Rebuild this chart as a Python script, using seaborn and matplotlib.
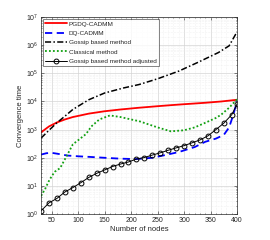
import numpy as np
import pandas as pd
import matplotlib
matplotlib.use("Agg")
import matplotlib.pyplot as plt
import seaborn as sns
from matplotlib.ticker import LogLocator, MultipleLocator, NullFormatter

# PGDQ-CADMM
x_pgdq = [30, 45, 60, 75, 90, 120, 150, 180, 215, 250, 275, 300, 340, 370, 400]
y_pgdq = [800, 1300, 1800, 2300, 2800, 3700, 4500, 5200, 6000, 6800, 7400, 8000, 9000, 10000, 11500]

# DQ-CADMM
x_dq = [30, 40, 50, 60, 80, 100, 120, 150, 180, 210, 240, 260, 290, 320, 340, 360, 375, 385, 392, 400]
y_dq = [130, 145, 150, 140, 120, 113, 108, 100, 93, 90, 100, 120, 160, 240, 370, 480, 650, 1200, 3000, 10000]

# Gossip based method
x_gossip = [30, 45, 60, 75, 90, 120, 150, 185, 215, 250, 290, 325, 365, 385, 400]
y_gossip = [500, 950, 1750, 3000, 5200, 11500, 20000, 30000, 40000, 64000, 120000, 240000, 550000, 950000, 3000000]

# Classical method
x_classic = [30, 38, 44, 50, 56, 66, 78, 90, 100, 115, 125, 140, 160, 180, 200, 215, 250, 275, 300, 320, 340, 360, 370, 385, 400]
y_classic = [4.4, 8, 14, 22, 32, 43, 112, 300, 420, 700, 1300, 2300, 3200, 2800, 2300, 2000, 1200, 870, 950, 1200, 1750, 2600, 3400, 6000, 12000]

# Gossip based method adjusted
x_adj = [30, 45, 60, 75, 90, 105, 120, 135, 150, 165, 180, 195, 210, 225, 240, 255, 270, 285,
         300, 315, 330, 345, 360, 375, 390, 400]
y_adj = [1.3, 2.5, 3.6, 6.1, 8.7, 13, 20, 28, 37, 49, 60, 71, 90, 102, 125, 150, 185, 225,
         270, 340, 430, 600, 1000, 1700, 3400, 8000]

sns.set_style("ticks")
plt.rcParams["font.family"] = ["Liberation Sans", "DejaVu Sans"]

fig = plt.figure(figsize=(2.7, 2.4), dpi=100)
ax = fig.add_axes([0.152, 0.108, 0.726, 0.821])

sns.lineplot(x=x_pgdq, y=y_pgdq, ax=ax, color="#ff0000", lw=1.3, label="PGDQ-CADMM")
sns.lineplot(x=x_dq, y=y_dq, ax=ax, color="#0000ff", lw=1.3, dashes=(4, 2.5), label="DQ-CADMM")
sns.lineplot(x=x_gossip, y=y_gossip, ax=ax, color="black", lw=1.1, dashes=(4, 1.5, 1, 1.5),
             label="Gossip based method")
sns.lineplot(x=x_classic, y=y_classic, ax=ax, color="#10a010", lw=1.3, dashes=(1, 1.2),
             label="Classical method")
sns.lineplot(x=x_adj, y=y_adj, ax=ax, color="black", lw=0.7, marker="o", markersize=3.5,
             markerfacecolor="none", markeredgecolor="black", markeredgewidth=0.7,
             label="Gossip based method adjusted")

ax.set_yscale("log")
ax.set_xlim(30, 400)
ax.set_ylim(1, 1e7)
ax.set_xticks([50, 100, 150, 200, 250, 300, 350, 400])
ax.xaxis.set_minor_locator(MultipleLocator(10))
ax.yaxis.set_major_locator(LogLocator(base=10, numticks=10))
ax.yaxis.set_minor_locator(LogLocator(base=10, subs=np.arange(2, 10), numticks=20))
ax.yaxis.set_minor_formatter(NullFormatter())

ax.grid(which="major", color="#d4d4d4", lw=0.5)
ax.grid(which="minor", color="#e8e8e8", lw=0.4, ls=":")
ax.set_axisbelow(True)

ax.tick_params(which="both", direction="in", top=True, right=True, labelsize=5, colors="#262626",
               length=2, width=0.4, pad=2)
ax.tick_params(which="minor", length=1)
for s in ax.spines.values():
    s.set_linewidth(0.5)
    s.set_color("#262626")

ax.set_xlabel("Number of nodes", fontsize=5.5, labelpad=1.5)
ax.set_ylabel("Convergence time", fontsize=5.5, labelpad=1.5)

leg = ax.legend(loc="upper left", fontsize=4.6, frameon=True, fancybox=False, edgecolor="#262626",
                borderpad=0.4, handlelength=3.4, labelspacing=0.6, handletextpad=0.3,
                bbox_to_anchor=(0.0, 1.0), borderaxespad=0.25)
leg.get_frame().set_linewidth(0.5)

fig.savefig("out.png", dpi=100)
